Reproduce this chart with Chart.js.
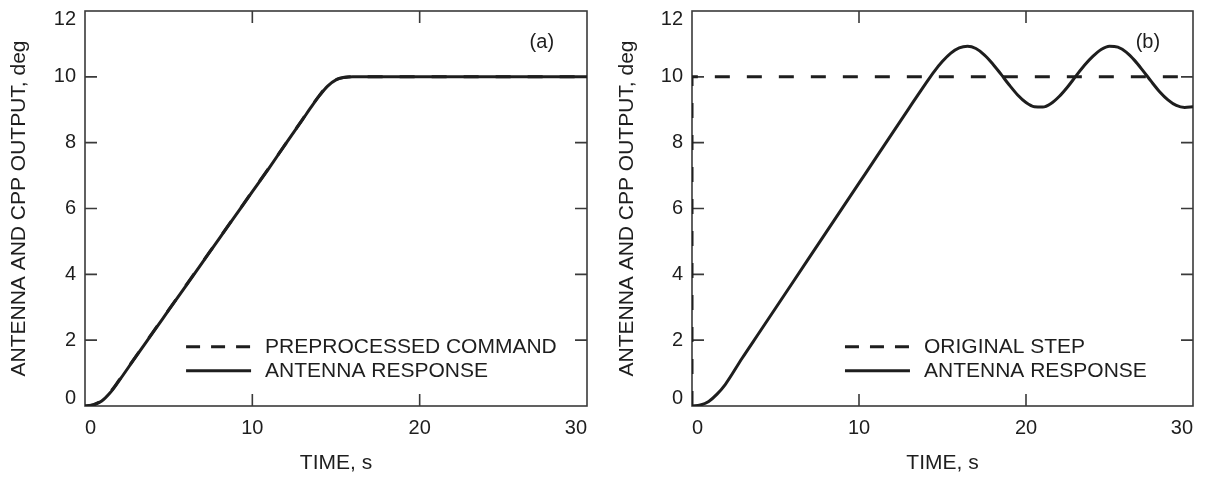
<!DOCTYPE html>
<html>
<head>
<meta charset="utf-8">
<title>Antenna response</title>
<script src="https://cdn.jsdelivr.net/npm/chart.js@4.4.1/dist/chart.umd.min.js"></script>
<style>
  html, body { margin: 0; padding: 0; background: #fff; }
  .panel { position: absolute; top: 0; }
  #panelA { left: 0; }
  #panelB { left: 604px; }
</style>
</head>
<body>
<div class="panel" id="panelA"><canvas id="chartA" width="604" height="481"></canvas></div>
<div class="panel" id="panelB"><canvas id="chartB" width="605" height="481"></canvas></div>
<script>
// axis ticks
const xTickValues = [0, 10, 20, 30];
const yTickValues = [0, 2, 4, 6, 8, 10, 12];

// (a) preprocessed ramp command and the antenna following it
const timeA = [0, 0.5, 1, 1.5, 2, 3, 4, 5, 6, 7, 8, 9, 10, 11, 12, 13, 13.5, 14, 14.5, 15, 15.5, 16, 18, 20, 22, 24, 26, 28, 30];
const commandA = [0, 0.04, 0.17, 0.42, 0.76, 1.48, 2.2, 2.92, 3.64, 4.36, 5.08, 5.8, 6.52, 7.24, 7.97, 8.71, 9.08, 9.43, 9.73, 9.92, 9.99, 10, 10, 10, 10, 10, 10, 10, 10];
const responseA = [0, 0.03, 0.15, 0.4, 0.74, 1.47, 2.19, 2.91, 3.63, 4.35, 5.07, 5.79, 6.51, 7.23, 7.97, 8.7, 9.07, 9.42, 9.72, 9.91, 9.98, 10, 10, 10, 10, 10, 10, 10, 10];

// (b) raw step command and the oscillating antenna response
const stepTime = [0, 0, 30];
const stepValue = [0, 10, 10];
const timeB = [0, 0.5, 1, 1.5, 2, 3, 4, 5, 6, 7, 8, 9, 10, 11, 12, 13, 13.5, 14, 14.5, 15, 15.5, 16, 16.5, 17, 17.5, 18, 18.5, 19, 19.5, 20, 20.5, 21, 21.5, 22, 22.5, 23, 23.5, 24, 24.5, 25, 25.5, 26, 26.5, 27, 27.5, 28, 28.5, 29, 29.5, 30];
const responseB = [0, 0.03, 0.14, 0.36, 0.66, 1.45, 2.21, 2.97, 3.73, 4.49, 5.25, 6.01, 6.77, 7.53, 8.29, 9.05, 9.43, 9.8, 10.16, 10.47, 10.72, 10.88, 10.93, 10.86, 10.67, 10.4, 10.08, 9.75, 9.45, 9.22, 9.09, 9.08, 9.19, 9.41, 9.7, 10.03, 10.35, 10.62, 10.83, 10.93, 10.9, 10.75, 10.5, 10.19, 9.86, 9.55, 9.3, 9.13, 9.07, 9.09];

const FONT = '"Liberation Sans", Arial, Helvetica, sans-serif';
const INK = '#1e1e1e';
const LINE = '#1e1e1e';
const FRAME = '#3a3a3a';
const TICK_LEN = 12;

const points = (xs, ys) => xs.map((x, i) => ({ x, y: ys[i] }));

// frame with inward tick marks, panel tag and an inset legend
const panelDecor = {
  id: 'panelDecor',
  beforeDatasetsDraw(chart) {
    const { ctx, chartArea: a, scales: { x, y } } = chart;
    ctx.save();
    ctx.strokeStyle = FRAME;
    ctx.lineWidth = 1.6;
    ctx.strokeRect(a.left, a.top, a.right - a.left, a.bottom - a.top);
    ctx.beginPath();
    x.ticks.forEach(t => {
      const px = x.getPixelForValue(t.value);
      if (px <= a.left + 1 || px >= a.right - 1) return;
      ctx.moveTo(px, a.bottom); ctx.lineTo(px, a.bottom - TICK_LEN);
      ctx.moveTo(px, a.top); ctx.lineTo(px, a.top + TICK_LEN);
    });
    y.ticks.forEach(t => {
      const py = y.getPixelForValue(t.value);
      if (py <= a.top + 1 || py >= a.bottom - 1) return;
      ctx.moveTo(a.left, py); ctx.lineTo(a.left + TICK_LEN, py);
      ctx.moveTo(a.right, py); ctx.lineTo(a.right - TICK_LEN, py);
    });
    ctx.stroke();
    ctx.restore();
  },
  afterDatasetsDraw(chart, args, o) {
    const { ctx, scales: { x, y } } = chart;
    ctx.save();
    ctx.fillStyle = INK;
    ctx.textBaseline = 'middle';

    ctx.font = `20px ${FONT}`;
    ctx.textAlign = 'center';
    ctx.fillText(o.tag, x.getPixelForValue(o.tagAt[0]), y.getPixelForValue(o.tagAt[1]));

    ctx.font = `21px ${FONT}`;
    ctx.textAlign = 'left';
    const left = x.getPixelForValue(o.legendAt[0]);
    chart.data.datasets.forEach((ds, i) => {
      const py = y.getPixelForValue(o.legendAt[1]) + i * o.rowGap;
      ctx.strokeStyle = LINE;
      ctx.lineWidth = 3;
      ctx.setLineDash(ds.borderDash && ds.borderDash.length ? [14, 11] : []);
      ctx.beginPath();
      ctx.moveTo(left, py);
      ctx.lineTo(left + 65, py);
      ctx.stroke();
      ctx.fillText(ds.label, left + 79, py);
    });
    ctx.restore();
  }
};

function buildPanel(canvasId, cfg) {
  return new Chart(document.getElementById(canvasId), {
    type: 'line',
    data: { datasets: cfg.datasets },
    options: {
      responsive: false,
      animation: false,
      layout: { padding: { top: 11, right: cfg.padRight, bottom: 0, left: 0 }, autoPadding: false },
      elements: { point: { radius: 0 } },
      plugins: {
        legend: { display: false },
        tooltip: { enabled: false },
        panelDecor: { tag: cfg.tag, tagAt: [27.3, 11.03], legendAt: cfg.legendAt, rowGap: 24 }
      },
      scales: {
        x: {
          type: 'linear', min: 0, max: 30,
          grid: { display: false, drawTicks: false },
          border: { display: false },
          afterBuildTicks: s => { s.ticks = xTickValues.map(v => ({ value: v })); },
          afterFit: s => { s.height = 75; s.paddingLeft = 0; s.paddingRight = 0; },
          ticks: { align: 'inner', padding: 10, color: INK, font: { family: FONT, size: 20 } },
          title: { display: true, text: 'TIME, s', color: INK, font: { family: FONT, size: 21 }, padding: { top: 0, bottom: 5 } }
        },
        y: {
          type: 'linear', min: 0, max: 12,
          grid: { display: false, drawTicks: false },
          border: { display: false },
          afterBuildTicks: s => { s.ticks = yTickValues.map(v => ({ value: v })); },
          afterFit: s => { s.width = cfg.axisWidth; s.paddingTop = 0; s.paddingBottom = 0; },
          ticks: {
            padding: 9, color: INK, font: { family: FONT, size: 20, lineHeight: '16px' },
            // keep the end labels clear of the frame corners
            callback: v => v === 0 ? ['0', ''] : v === 12 ? ['', '12'] : String(v)
          },
          title: { display: true, text: 'ANTENNA AND CPP OUTPUT, deg', color: INK, font: { family: FONT, size: 21 }, padding: { top: cfg.titleGap, bottom: 0 } }
        }
      }
    },
    plugins: [panelDecor]
  });
}

buildPanel('chartA', {
  tag: '(a)', axisWidth: 85, padRight: 17, titleGap: 7, legendAt: [6.04, 1.8],
  datasets: [
    { label: 'PREPROCESSED COMMAND', data: points(timeA, commandA), borderColor: LINE, borderWidth: 3,
      borderDash: [15, 17], cubicInterpolationMode: 'monotone', order: 2 },
    { label: 'ANTENNA RESPONSE', data: points(timeA, responseA), borderColor: LINE, borderWidth: 3,
      cubicInterpolationMode: 'monotone', order: 1 }
  ]
});

buildPanel('chartB', {
  tag: '(b)', axisWidth: 88, padRight: 16, titleGap: 11, legendAt: [9.16, 1.8],
  datasets: [
    { label: 'ORIGINAL STEP', data: points(stepTime, stepValue), borderColor: LINE, borderWidth: 3,
      borderDash: [15, 17], tension: 0, order: 2 },
    { label: 'ANTENNA RESPONSE', data: points(timeB, responseB), borderColor: LINE, borderWidth: 3,
      cubicInterpolationMode: 'monotone', order: 1 }
  ]
});
</script>
</body>
</html>
